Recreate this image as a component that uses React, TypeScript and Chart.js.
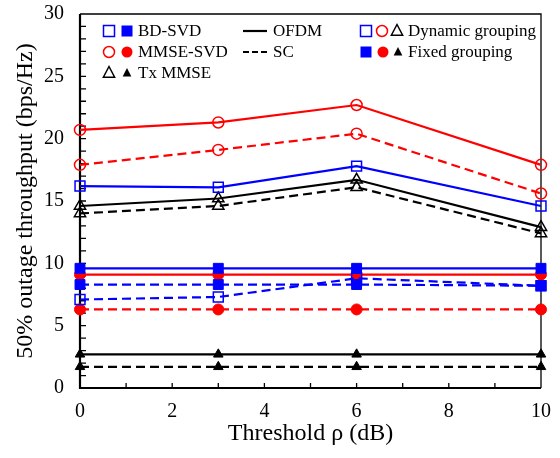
import React, { useEffect, useRef } from 'react';
import { Chart, registerables } from 'chart.js';

Chart.register(...registerables);

const thresholds = [0, 3, 6, 10];
const dynBdOfdm = [16.2, 16.1, 17.8, 14.6];
const dynBdSc = [7.1, 7.3, 8.8, 8.2];
const dynMmseOfdm = [20.7, 21.3, 22.7, 17.9];
const dynMmseSc = [17.9, 19.1, 20.4, 15.6];
const dynTxOfdm = [14.6, 15.2, 16.7, 12.9];
const dynTxSc = [14.0, 14.6, 16.1, 12.4];
const fixBdOfdm = [9.6, 9.6, 9.6, 9.6];
const fixBdSc = [8.3, 8.3, 8.3, 8.2];
const fixMmseOfdm = [9.1, 9.1, 9.1, 9.1];
const fixMmseSc = [6.3, 6.3, 6.3, 6.3];
const fixTxOfdm = [2.7, 2.7, 2.7, 2.7];
const fixTxSc = [1.7, 1.7, 1.7, 1.7];

const xTicks = [0, 2, 4, 6, 8, 10];
const yTicks = [0, 5, 10, 15, 20, 25, 30];

const BLUE = '#0000ff';
const RED = '#ff0000';
const BLACK = '#000000';
const FONT = "'Liberation Serif', 'DejaVu Serif', serif";

function ds(label: string, data: number[], color: string, style: string, filled: boolean, dashed: boolean, radius: number) {
  return {
    label,
    data: thresholds.map((x, i) => ({ x, y: data[i] })),
    borderColor: color,
    backgroundColor: filled ? color : 'transparent',
    pointStyle: style,
    pointRadius: radius,
    pointBorderColor: color,
    pointBackgroundColor: filled ? color : 'transparent',
    pointBorderWidth: filled ? 1 : 1.5,
    borderWidth: 2.2,
    borderDash: dashed ? [9, 5] : [],
    tension: 0,
    fill: false,
    clip: false as any,
  };
}

function marker(ctx: CanvasRenderingContext2D, style: string, x: number, y: number, color: string, filled: boolean) {
  ctx.save();
  ctx.strokeStyle = color;
  ctx.fillStyle = color;
  ctx.lineWidth = 1.5;
  ctx.beginPath();
  if (style === 'rect') {
    const s = 5.5;
    ctx.rect(x - s, y - s, 2 * s, 2 * s);
  } else if (style === 'circle') {
    ctx.arc(x, y, 5.5, 0, Math.PI * 2);
  } else {
    const r = filled ? 5 : 6.5;
    ctx.moveTo(x, y - r);
    ctx.lineTo(x + r * 0.866, y + r * 0.5 + 1);
    ctx.lineTo(x - r * 0.866, y + r * 0.5 + 1);
    ctx.closePath();
  }
  if (filled) ctx.fill();
  else ctx.stroke();
  ctx.restore();
}

const framePlugin = {
  id: 'frameTicks',
  beforeDatasetsDraw(chart: any) {
    const { ctx, chartArea: a, scales } = chart;
    ctx.save();
    ctx.strokeStyle = BLACK;
    ctx.lineWidth = 1.3;
    ctx.beginPath();
    ctx.moveTo(a.left, a.top);
    ctx.lineTo(a.right, a.top);
    ctx.lineTo(a.right, a.bottom);
    ctx.stroke();
    ctx.lineWidth = 2.2;
    ctx.beginPath();
    ctx.moveTo(a.left, a.top);
    ctx.lineTo(a.left, a.bottom);
    ctx.lineTo(a.right, a.bottom);
    ctx.stroke();
    ctx.lineWidth = 1.3;
    ctx.beginPath();
    for (let v = 1; v < 30; v++) {
      const py = scales.y.getPixelForValue(v);
      ctx.moveTo(a.left, py);
      ctx.lineTo(a.left + 6, py);
    }
    for (let v = 1; v < 10; v++) {
      const px = scales.x.getPixelForValue(v);
      ctx.moveTo(px, a.bottom);
      ctx.lineTo(px, a.bottom - 5);
    }
    ctx.stroke();
    ctx.restore();
  },
  afterDraw(chart: any) {
    const ctx: CanvasRenderingContext2D = chart.ctx;
    ctx.save();
    ctx.font = `17px ${FONT}`;
    ctx.fillStyle = BLACK;
    ctx.textBaseline = 'middle';
    ctx.textAlign = 'left';
    const r1 = 31, r2 = 52, r3 = 73;
    marker(ctx, 'rect', 109, r1, BLUE, false);
    marker(ctx, 'rect', 127, r1, BLUE, true);
    ctx.fillText('BD-SVD', 138, r1 + 1);
    marker(ctx, 'circle', 109, r2, RED, false);
    marker(ctx, 'circle', 127, r2, RED, true);
    ctx.fillText('MMSE-SVD', 138, r2 + 1);
    marker(ctx, 'triangle', 109, r3, BLACK, false);
    marker(ctx, 'triangle', 127, r3, BLACK, true);
    ctx.fillText('Tx MMSE', 138, r3 + 1);
    ctx.strokeStyle = BLACK;
    ctx.lineWidth = 2.2;
    ctx.beginPath();
    ctx.moveTo(243, r1);
    ctx.lineTo(267, r1);
    ctx.stroke();
    ctx.setLineDash([6, 3]);
    ctx.beginPath();
    ctx.moveTo(243, r2);
    ctx.lineTo(267, r2);
    ctx.stroke();
    ctx.setLineDash([]);
    ctx.fillText('OFDM', 273, r1 + 1);
    ctx.fillText('SC', 273, r2 + 1);
    marker(ctx, 'rect', 366, r1, BLUE, false);
    marker(ctx, 'circle', 382, r1, RED, false);
    marker(ctx, 'triangle', 397, r1, BLACK, false);
    ctx.fillText('Dynamic grouping', 408, r1 + 1);
    marker(ctx, 'rect', 366, r2, BLUE, true);
    marker(ctx, 'circle', 383, r2, RED, true);
    marker(ctx, 'triangle', 398, r2, BLACK, true);
    ctx.fillText('Fixed grouping', 408, r2 + 1);
    ctx.restore();
  },
};

export default function App() {
  const ref = useRef<HTMLCanvasElement | null>(null);
  useEffect(() => {
    if (!ref.current) return;
    const chart = new Chart(ref.current, {
      type: 'line',
      data: {
        datasets: [
          ds('Dynamic BD-SVD OFDM', dynBdOfdm, BLUE, 'rect', false, false, 7),
          ds('Dynamic BD-SVD SC', dynBdSc, BLUE, 'rect', false, true, 7),
          ds('Dynamic MMSE-SVD OFDM', dynMmseOfdm, RED, 'circle', false, false, 5.5),
          ds('Dynamic MMSE-SVD SC', dynMmseSc, RED, 'circle', false, true, 5.5),
          ds('Dynamic Tx MMSE OFDM', dynTxOfdm, BLACK, 'triangle', false, false, 6.5),
          ds('Dynamic Tx MMSE SC', dynTxSc, BLACK, 'triangle', false, true, 6.5),
          ds('Fixed BD-SVD OFDM', fixBdOfdm, BLUE, 'rect', true, false, 7),
          ds('Fixed BD-SVD SC', fixBdSc, BLUE, 'rect', true, true, 7),
          ds('Fixed MMSE-SVD OFDM', fixMmseOfdm, RED, 'circle', true, false, 5.5),
          ds('Fixed MMSE-SVD SC', fixMmseSc, RED, 'circle', true, true, 5.5),
          ds('Fixed Tx MMSE OFDM', fixTxOfdm, BLACK, 'triangle', true, false, 5.5),
          ds('Fixed Tx MMSE SC', fixTxSc, BLACK, 'triangle', true, true, 5.5),
        ] as any,
      },
      options: {
        responsive: false,
        animation: false,
        devicePixelRatio: 1,
        layout: { padding: { top: 14, right: 19, left: 0, bottom: 0 } },
        plugins: { legend: { display: false }, tooltip: { enabled: false } },
        scales: {
          x: {
            type: 'linear',
            min: 0,
            max: 10,
            afterBuildTicks: (s: any) => { s.ticks = xTicks.map((v) => ({ value: v })); },
            afterFit: (s: any) => { s.height = 70; s.paddingLeft = 0; s.paddingRight = 0; },
            ticks: { color: BLACK, font: { family: FONT, size: 20 }, padding: 12, maxRotation: 0 },
            grid: { display: false, drawTicks: false },
            border: { display: false },
            title: {
              display: true,
              text: 'Threshold ρ (dB)',
              color: BLACK,
              font: { family: FONT, size: 24 },
              padding: { top: 0, bottom: 10 },
            },
          },
          y: {
            type: 'linear',
            min: 0,
            max: 30,
            afterBuildTicks: (s: any) => { s.ticks = yTicks.map((v) => ({ value: v })); },
            afterFit: (s: any) => { s.width = 80; s.paddingTop = 0; s.paddingBottom = 0; },
            ticks: { color: BLACK, font: { family: FONT, size: 20 }, padding: 16 },
            grid: { display: false, drawTicks: false },
            border: { display: false },
            title: {
              display: true,
              text: '50% outage throughput (bps/Hz)',
              color: BLACK,
              font: { family: FONT, size: 24 },
              padding: { top: 11, bottom: 0 },
            },
          },
        },
      },
      plugins: [framePlugin],
    } as any);
    return () => chart.destroy();
  }, []);
  return (
    <div style={{ position: 'absolute', left: 0, top: 0, width: 560, height: 458, background: '#fff' }}>
      <canvas ref={ref} width={560} height={458} />
    </div>
  );
}
